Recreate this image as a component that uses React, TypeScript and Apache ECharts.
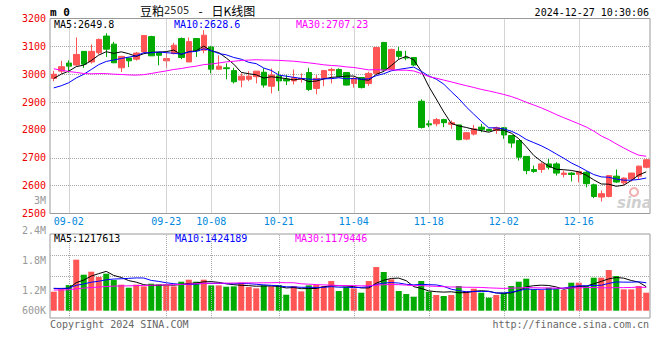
import React, { useEffect, useRef } from 'react';
import * as echarts from 'echarts';

const dates = [
  '08-29', '08-30',
  '09-02', '09-03', '09-04', '09-05', '09-06', '09-09', '09-10', '09-11', '09-12', '09-13',
  '09-18', '09-19', '09-20', '09-23', '09-24', '09-25', '09-26', '09-27', '09-30',
  '10-08', '10-09', '10-10', '10-11', '10-14', '10-15', '10-16', '10-17', '10-18',
  '10-21', '10-22', '10-23', '10-24', '10-25', '10-28', '10-29', '10-30', '10-31',
  '11-01', '11-04', '11-05', '11-06', '11-07', '11-08', '11-11', '11-12', '11-13', '11-14', '11-15',
  '11-18', '11-19', '11-20', '11-21', '11-22', '11-25', '11-26', '11-27', '11-28', '11-29',
  '12-02', '12-03', '12-04', '12-05', '12-06', '12-09', '12-10', '12-11', '12-12', '12-13',
  '12-16', '12-17', '12-18', '12-19', '12-20', '12-23', '12-24', '12-25', '12-26', '12-27',
];

const opens = [
  2985, 3011, 3040, 3033, 3082, 3044, 3077, 3137, 3108, 3023,
  3058, 3054, 3080, 3135, 3078, 3048, 3074, 3128, 3044, 3128,
  3086, 3098, 3018, 3023, 3013, 2979, 2982, 2991, 3007, 2957,
  2994, 2982, 2976, 2981, 3006, 2949, 2985, 3013, 3017, 3006,
  2967, 2988, 2967, 3003, 3114, 3018, 3082, 3060, 3060, 2903,
  2822, 2822, 2837, 2820, 2818, 2767, 2785, 2810, 2802, 2798,
  2808, 2780, 2762, 2705, 2658, 2658, 2678, 2678, 2640, 2645,
  2641, 2648, 2603, 2559, 2561, 2634, 2610, 2624, 2634, 2666,
];
const closes = [
  3000, 3027, 3029, 3071, 3036, 3082, 3125, 3090, 3041, 3064,
  3048, 3076, 3139, 3066, 3068, 3056, 3104, 3060, 3117, 3084,
  3140, 3018, 3029, 3020, 2973, 2993, 2993, 3011, 2961, 2997,
  2976, 2976, 2987, 2984, 2945, 2985, 3013, 3017, 2991, 2961,
  2985, 2952, 3003, 3096, 3015, 3089, 3064, 3058, 3033, 2809,
  2818, 2837, 2826, 2826, 2765, 2790, 2804, 2802, 2798, 2808,
  2782, 2753, 2702, 2654, 2651, 2678, 2666, 2645, 2645, 2640,
  2651, 2607, 2561, 2571, 2636, 2613, 2627, 2645, 2670, 2693,
];
const highs = [
  3012, 3048, 3050, 3132, 3082, 3107, 3128, 3147, 3116, 3066,
  3060, 3080, 3140, 3138, 3078, 3078, 3113, 3132, 3132, 3129,
  3158, 3102, 3068, 3039, 3023, 3003, 3011, 3011, 3021, 3021,
  3011, 2997, 3017, 3003, 3023, 2997, 3013, 3023, 3021, 3006,
  2991, 2988, 3009, 3098, 3116, 3092, 3098, 3084, 3060, 2910,
  2834, 2843, 2840, 2834, 2818, 2792, 2818, 2822, 2804, 2812,
  2810, 2780, 2762, 2705, 2672, 2684, 2696, 2684, 2654, 2648,
  2651, 2652, 2607, 2583, 2636, 2658, 2630, 2646, 2672, 2696,
];
const lows = [
  2975, 3003, 3005, 3030, 3023, 3038, 3071, 3062, 3040, 3008,
  3026, 3049, 3078, 3066, 3032, 3023, 3071, 3054, 3044, 3062,
  3075, 3003, 3016, 2982, 2967, 2953, 2975, 2967, 2952, 2931,
  2940, 2961, 2963, 2970, 2940, 2928, 2957, 2967, 2990, 2960,
  2952, 2949, 2958, 3000, 3008, 3016, 3054, 3050, 3030, 2805,
  2810, 2813, 2810, 2804, 2763, 2763, 2780, 2792, 2794, 2786,
  2768, 2736, 2690, 2641, 2646, 2646, 2658, 2636, 2630, 2615,
  2612, 2594, 2555, 2543, 2558, 2610, 2603, 2615, 2622, 2662,
];
const volumes = [
  966000, 1085000, 1305000, 2593000, 1830000, 1983000, 1712000, 1881000, 1559000, 1322000,
  1169000, 1322000, 1237000, 1373000, 1339000, 1288000, 1237000, 1474000, 1576000, 1474000,
  1576000, 1288000, 1288000, 1220000, 1237000, 1423000, 1203000, 1135000, 1288000, 1237000,
  1305000, 813000, 1254000, 983000, 1288000, 1305000, 1254000, 1508000, 1000000, 1220000,
  1135000, 915000, 1508000, 2220000, 1966000, 1593000, 1000000, 847000, 712000, 1508000,
  966000, 796000, 746000, 796000, 1254000, 1000000, 1118000, 915000, 661000, 796000,
  915000, 1254000, 1474000, 1627000, 1085000, 1051000, 1169000, 1101000, 1051000, 1423000,
  1423000, 1254000, 1678000, 1678000, 2067000, 1762000, 1085000, 1085000, 1254000, 915000,
];
// closes / volumes of the 29 sessions before 08-29 (estimated, only feed the moving averages)
const prevCloses = [
  3180, 3170, 3165, 3160,
  3110, 3100, 3095, 3105, 3090, 3100, 3095, 3090,
  2940, 2925, 2920,
  2950, 2960, 2970, 2975, 2975,
  2950, 2920, 2900, 2905, 2910,
  2950, 2975, 2990, 3009,
];
const prevVolumes = [
  980000, 1050000, 1000000, 950000, 1020000, 1080000, 990000, 960000, 1010000, 1040000,
  1000000, 970000, 1030000, 1060000, 990000, 1000000, 1020000, 980000, 1010000, 1070000,
  1100000, 1180000, 1120000, 1150000, 1120000,
  1200000, 1160000, 1170000, 1180000,
];

const dateTicks = ['09-02', '09-23', '10-08', '10-21', '11-04', '11-18', '12-02', '12-16'];
const priceLegend = ['MA5:2649.8', 'MA10:2628.6', 'MA30:2707.23'];
const volLegend = ['MA5:1217613', 'MA10:1424189', 'MA30:1179446'];
const maPeriods = [5, 10, 30];
const maColors = ['#000000', '#0000ff', '#ff00ff'];

const UP = '#ff5555';
const DOWN = '#00aa00';
const MONO = '"DejaVu Sans Mono", "Liberation Mono", monospace';
const CJK = '"Noto Sans CJK SC", sans-serif';

function movingAvg(prev: number[], vals: number[], n: number) {
  const all = prev.concat(vals);
  const off = prev.length;
  return vals.map((_, i) => {
    let s = 0;
    for (let k = 0; k < n; k++) s += all[off + i - k];
    return Math.round((s / n) * 100) / 100;
  });
}

function txt(text: string, x: number, y: number, fill: string, extra: any = {}) {
  return {
    type: 'text',
    x,
    y,
    silent: true,
    z: 100,
    style: { text, fill, font: `10px ${MONO}`, align: 'left', verticalAlign: 'middle', ...extra },
  };
}

export default function App() {
  const ref = useRef<HTMLDivElement>(null);

  useEffect(() => {
    if (!ref.current) return;
    const chart = echarts.init(ref.current, undefined, { renderer: 'svg' });

    const gridLine = { type: 'dotted', color: '#aaaaaa', width: 1 };
    const vMark = {
      silent: true,
      symbol: ['none', 'none'],
      label: { show: false },
      lineStyle: gridLine,
      data: dateTicks.map((d) => ({ xAxis: d })),
    };

    const priceMAs = maPeriods.map((n, k) => ({
      type: 'line',
      xAxisIndex: 0,
      yAxisIndex: 0,
      data: movingAvg(prevCloses, closes, n),
      symbol: 'none',
      lineStyle: { color: maColors[k], width: 1 },
      z: 5,
    }));
    const volMAs = maPeriods.map((n, k) => ({
      type: 'line',
      xAxisIndex: 1,
      yAxisIndex: 1,
      data: movingAvg(prevVolumes, volumes, n),
      symbol: 'none',
      lineStyle: { color: maColors[k], width: 1 },
      z: 5,
    }));

    const option: any = {
      animation: false,
      backgroundColor: '#ffffff',
      grid: [
        { left: 50, right: 10, top: 18.5, height: 195, show: true, borderColor: '#999999', borderWidth: 1, backgroundColor: 'transparent' },
        { left: 50, right: 10, top: 234, height: 84, show: true, borderColor: '#999999', borderWidth: 1, backgroundColor: 'transparent' },
        { left: 50, right: 10, top: 200.5, height: 120 },
      ],
      xAxis: [
        {
          gridIndex: 0,
          type: 'category',
          data: dates,
          boundaryGap: true,
          axisLine: { show: false },
          axisTick: { show: false },
          splitLine: { show: false },
          axisLabel: {
            interval: (_i: number, v: string) => dateTicks.includes(v),
            color: '#0088dd',
            fontFamily: MONO,
            fontSize: 10,
            margin: 3,
          },
        },
        {
          gridIndex: 1,
          type: 'category',
          data: dates,
          boundaryGap: true,
          axisLine: { show: false },
          axisTick: { show: false },
          axisLabel: { show: false },
          splitLine: { show: false },
        },
        { gridIndex: 2, type: 'category', data: dates, show: false },
      ],
      yAxis: [
        {
          gridIndex: 0,
          type: 'value',
          min: 2500,
          max: 3200,
          interval: 100,
          axisLine: { show: false },
          axisTick: { show: false },
          axisLabel: { color: '#ee0000', fontFamily: MONO, fontSize: 10, margin: 4, formatter: (v: number) => String(v) },
          splitLine: { show: true, lineStyle: gridLine, showMinLine: false, showMaxLine: false },
        },
        { gridIndex: 1, type: 'value', min: -371000, max: 3899000, show: false, splitLine: { show: false } },
        {
          gridIndex: 1,
          type: 'value',
          min: 0,
          max: 4,
          interval: 1,
          axisLine: { show: false },
          axisTick: { show: false },
          axisLabel: { show: false },
          splitLine: { show: true, lineStyle: gridLine, showMinLine: false, showMaxLine: false },
        },
        {
          gridIndex: 2,
          type: 'value',
          min: 600000,
          max: 3000000,
          interval: 600000,
          axisLine: { show: false },
          axisTick: { show: false },
          splitLine: { show: false },
          axisLabel: {
            color: '#999999',
            fontFamily: MONO,
            fontSize: 10,
            margin: 4,
            formatter: (v: number) => (v < 1000000 ? '{lift|' + v / 1000 + 'K}' : v / 1000000 + 'M'),
            rich: { lift: { color: '#999999', fontFamily: MONO, fontSize: 10, padding: [0, 0, 20, 0] } },
          },
        },
      ],
      series: [
        {
          type: 'candlestick',
          xAxisIndex: 0,
          yAxisIndex: 0,
          barWidth: 6,
          data: dates.map((_, i) => [opens[i], closes[i], lows[i], highs[i]]),
          itemStyle: { color: UP, color0: DOWN, borderColor: UP, borderColor0: DOWN, borderWidth: 1 },
          markLine: vMark,
          z: 3,
        },
        ...priceMAs,
        {
          type: 'bar',
          xAxisIndex: 1,
          yAxisIndex: 1,
          barWidth: 6,
          data: volumes.map((v, i) => ({
            value: v,
            itemStyle: { color: closes[i] >= opens[i] ? UP : DOWN },
          })),
          markLine: vMark,
          z: 3,
        },
        ...volMAs,
      ],
      graphic: {
        elements: [
          txt('m 0', 50, 12, '#000000', { font: `bold 11px ${MONO}` }),
          {
            type: 'text',
            x: 140,
            y: 10,
            silent: true,
            style: {
              text: '{a|豆粕}{n|2505}{d|-}{a|日K线图}',
              fill: '#000000',
              align: 'left',
              verticalAlign: 'middle',
              rich: {
                a: { fontFamily: CJK, fontSize: 12, fill: '#000000' },
                n: { fontFamily: '"DejaVu Sans", sans-serif', fontSize: 10, fill: '#333333' },
                d: { fontFamily: CJK, fontSize: 12, fill: '#000000', padding: [0, 9, 0, 9] },
              },
            },
          },
          txt('2024-12-27 10:30:06', 649, 12, '#000000', { align: 'right' }),
          txt(priceLegend[0], 54, 24, maColors[0]),
          txt(priceLegend[1], 174, 24, maColors[1]),
          txt(priceLegend[2], 296, 24, maColors[2]),
          txt(volLegend[0], 54, 238, maColors[0]),
          txt(volLegend[1], 175, 238, maColors[1]),
          txt(volLegend[2], 295, 238, maColors[2]),
          txt('Copyright 2024 SINA.COM', 50, 324, '#666666'),
          txt('http://finance.sina.com.cn', 649, 324, '#666666', { align: 'right' }),
          {
            type: 'ring',
            silent: true,
            shape: { cx: 634, cy: 192, r: 5, r0: 3 },
            style: { fill: '#f3b0b0' },
            z: 1,
          },
          {
            type: 'text',
            x: 617,
            y: 203,
            silent: true,
            z: 1,
            style: {
              text: 'sina',
              fill: '#d0d0d0',
              font: 'italic bold 15px "DejaVu Sans", sans-serif',
              align: 'left',
              verticalAlign: 'middle',
            },
          },
        ],
      },
    };

    chart.setOption(option);
    return () => chart.dispose();
  }, []);

  return <div ref={ref} style={{ width: 660, height: 360, position: 'absolute', left: 0, top: 0 }} />;
}
